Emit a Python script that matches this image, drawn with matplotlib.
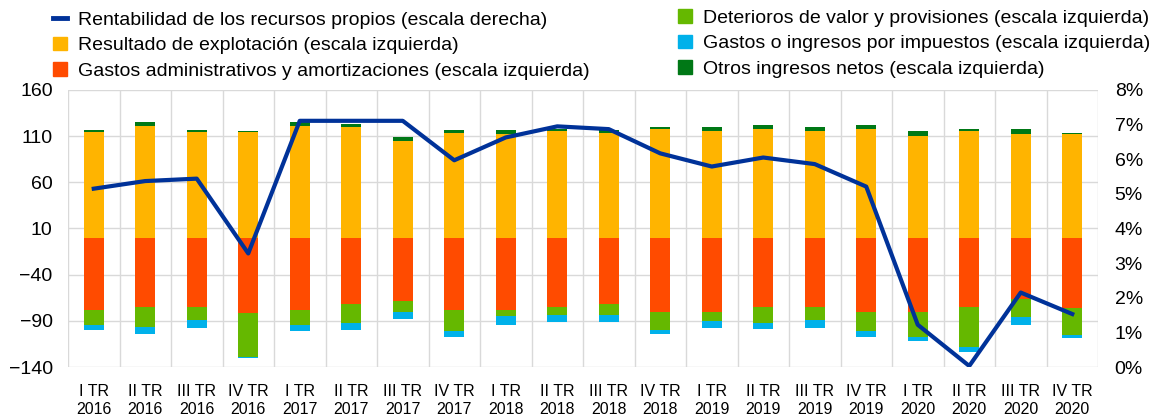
import matplotlib
matplotlib.use("Agg")
import matplotlib.pyplot as plt
import numpy as np
from matplotlib.patches import Patch
from matplotlib.lines import Line2D

plt.rcParams['font.family'] = ['Liberation Sans', 'DejaVu Sans']

categories = ["I TR\n2016", "II TR\n2016", "III TR\n2016", "IV TR\n2016",
              "I TR\n2017", "II TR\n2017", "III TR\n2017", "IV TR\n2017",
              "I TR\n2018", "II TR\n2018", "III TR\n2018", "IV TR\n2018",
              "I TR\n2019", "II TR\n2019", "III TR\n2019", "IV TR\n2019",
              "I TR\n2020", "II TR\n2020", "III TR\n2020", "IV TR\n2020"]

resultado = [115, 121, 114, 114, 121, 120, 105, 113, 112, 116, 113, 117.5,
             116, 118, 115.5, 117.5, 110, 116, 112, 112]
otros = [2, 4, 3, 1.5, 4, 3, 4, 4, 5, 2, 4, 2, 3.5, 4, 4, 4.5, 6, 1.5, 6, 1.5]
gastos_admin = [-78, -74.5, -74.5, -82, -78, -71.5, -68, -78, -78, -74.5, -71.5, -80,
                -80, -75, -74.5, -80, -80, -74.5, -66, -76]
deterioros = [-16, -22.5, -15, -47, -16, -21, -12, -23.5, -7, -9, -12, -20,
              -10, -17, -15, -21.5, -28, -43.5, -20, -29]
impuestos = [-5.5, -7, -8.5, -1, -7, -7, -8, -6, -9, -8, -8, -4,
             -8, -7, -8, -6, -3.5, -6, -8, -3.5]
roe = [5.15, 5.37, 5.44, 3.28, 7.11, 7.11, 7.11, 5.97, 6.63, 6.95, 6.87, 6.17,
       5.79, 6.05, 5.86, 5.21, 1.22, 0.03, 2.15, 1.53]

left_ticks = [-140, -90, -40, 10, 60, 110, 160]
right_ticks = [0, 1, 2, 3, 4, 5, 6, 7, 8]

c_yellow = "#FFB400"
c_red = "#FF4B00"
c_green = "#65B800"
c_cyan = "#00B1EA"
c_dkgreen = "#007816"
c_blue = "#003299"
c_grid = "#D9D9D9"

fig = plt.figure(figsize=(11.68, 4.19), dpi=100)
ax = fig.add_axes([68/1168, 1 - 367/419, (1098-68)/1168, (367-90)/419])

x = np.arange(len(categories))
w = 0.39
res = np.array(resultado)
otr = np.array(otros)
ga = np.array(gastos_admin)
de = np.array(deterioros)
im = np.array(impuestos)

ax.bar(x, res, w, color=c_yellow, zorder=2)
ax.bar(x, otr, w, bottom=res, color=c_dkgreen, zorder=2)
ax.bar(x, ga, w, color=c_red, zorder=2)
ax.bar(x, de, w, bottom=ga, color=c_green, zorder=2)
ax.bar(x, im, w, bottom=ga + de, color=c_cyan, zorder=2)

ax.set_xlim(-0.5, len(categories) - 0.5)
ax.set_ylim(-140, 160)
ax.set_yticks(left_ticks)
ax.set_xticks(x)
ax.set_xticklabels(categories, fontsize=11.5, linespacing=1.3)
ax.tick_params(axis='both', length=0)
ax.tick_params(axis='y', labelsize=14, pad=11)
ax.tick_params(axis='x', pad=12)
for v in left_ticks:
    ax.axhline(v, color=c_grid, lw=1, zorder=1)
for b in np.arange(-0.5, len(categories), 1.0):
    ax.axvline(b, color=c_grid, lw=1, zorder=1)
for s in ax.spines.values():
    s.set_visible(False)

ax2 = ax.twinx()
ax2.set_position(ax.get_position())
ax2.plot(x, roe, color=c_blue, lw=3, solid_joinstyle='round', zorder=3)
ax2.set_ylim(0, 8)
ax2.set_yticks(right_ticks)
ax2.set_yticklabels([f"{t}%" for t in right_ticks])
ax2.tick_params(axis='y', length=0, labelsize=14, pad=12)
for s in ax2.spines.values():
    s.set_visible(False)

handles1 = [Line2D([0], [0], color=c_blue, lw=3.5),
            Patch(color=c_yellow), Patch(color=c_red)]
labels1 = ["Rentabilidad de los recursos propios (escala derecha)",
           "Resultado de explotación (escala izquierda)",
           "Gastos administrativos y amortizaciones (escala izquierda)"]
handles2 = [Patch(color=c_green), Patch(color=c_cyan), Patch(color=c_dkgreen)]
labels2 = ["Deterioros de valor y provisiones (escala izquierda)",
           "Gastos o ingresos por impuestos (escala izquierda)",
           "Otros ingresos netos (escala izquierda)"]

common = dict(loc='upper left', frameon=False, fontsize=14, handlelength=0.72,
              handleheight=0.72, handletextpad=0.55, labelspacing=0.4,
              borderaxespad=0, borderpad=0)
leg1 = fig.legend(handles1, labels1, bbox_to_anchor=(53/1168, 1 - 11/419), **common)
leg2 = fig.legend(handles2, labels2, bbox_to_anchor=(678/1168, 1 - 9/419), **common)

fig.savefig("out.png", dpi=100)
